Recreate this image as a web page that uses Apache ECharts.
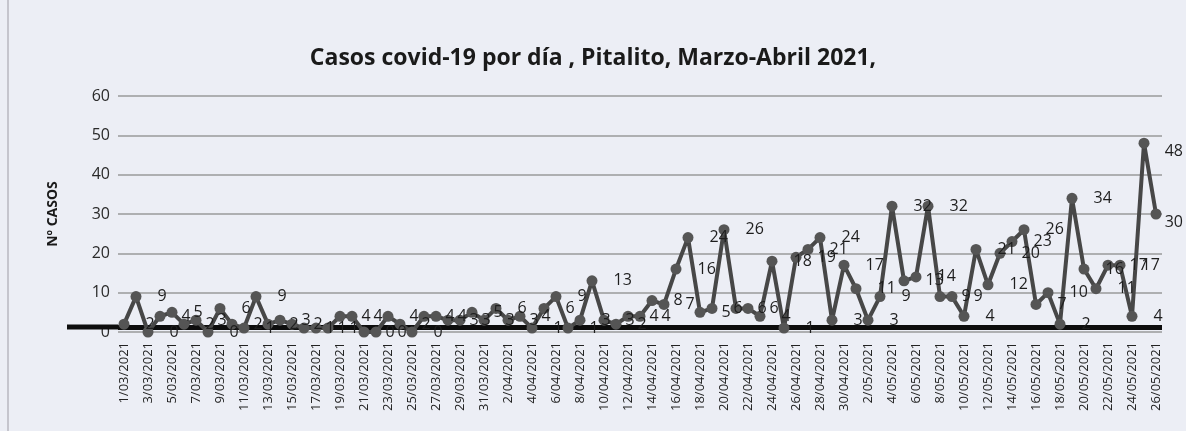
<!DOCTYPE html>
<html>
<head>
<meta charset="utf-8">
<script src="https://cdn.jsdelivr.net/npm/echarts@6/dist/echarts.min.js"></script>
<style>
html,body{margin:0;padding:0;background:#eceef5;}
#chart{width:1186px;height:431px;}
</style>
</head>
<body>
<div id="chart"></div>
<script>
const titleText = "Casos covid-19 por día , Pitalito, Marzo-Abril 2021,";
const yAxisName = "Nº CASOS";
const yTicks = [0, 10, 20, 30, 40, 50, 60];
const categories = [
"1/03/2021","2/03/2021","3/03/2021","4/03/2021","5/03/2021","6/03/2021","7/03/2021","8/03/2021","9/03/2021","10/03/2021",
"11/03/2021","12/03/2021","13/03/2021","14/03/2021","15/03/2021","16/03/2021","17/03/2021","18/03/2021","19/03/2021","20/03/2021",
"21/03/2021","22/03/2021","23/03/2021","24/03/2021","25/03/2021","26/03/2021","27/03/2021","28/03/2021","29/03/2021","30/03/2021",
"31/03/2021","1/04/2021","2/04/2021","3/04/2021","4/04/2021","5/04/2021","6/04/2021","7/04/2021","8/04/2021","9/04/2021",
"10/04/2021","11/04/2021","12/04/2021","13/04/2021","14/04/2021","15/04/2021","16/04/2021","17/04/2021","18/04/2021","19/04/2021",
"20/04/2021","21/04/2021","22/04/2021","23/04/2021","24/04/2021","25/04/2021","26/04/2021","27/04/2021","28/04/2021","29/04/2021",
"30/04/2021","1/05/2021","2/05/2021","3/05/2021","4/05/2021","5/05/2021","6/05/2021","7/05/2021","8/05/2021","9/05/2021",
"10/05/2021","11/05/2021","12/05/2021","13/05/2021","14/05/2021","15/05/2021","16/05/2021","17/05/2021","18/05/2021","19/05/2021",
"20/05/2021","21/05/2021","22/05/2021","23/05/2021","24/05/2021","25/05/2021","26/05/2021"
];
const casos = [
2, 9, 0, 4, 5, 2, 3, 0, 6, 2,
1, 9, 2, 3, 2, 1, 1, 1, 4, 4,
0, 0, 4, 2, 0, 4, 4, 3, 3, 5,
3, 6, 3, 4, 1, 6, 9, 1, 3, 13,
3, 2, 4, 4, 8, 7, 16, 24, 5, 6,
26, 6, 6, 4, 18, 1, 19, 21, 24, 3,
17, 11, 3, 9, 32, 13, 14, 32, 9, 9,
4, 21, 12, 20, 23, 26, 7, 10, 2, 34,
16, 11, 17, 17, 4, 48, 30
];
const baseLineValue = [1.3];

const chart = echarts.init(document.getElementById('chart'), null, {renderer:'canvas'});
const W = 1186;
const option = {
  backgroundColor: '#eceef5',
  animation: false,
  title: {
    text: titleText,
    left: 'center',
    top: 42,
    textStyle: {fontFamily: 'Open Sans', fontWeight: 'bold', fontSize: 23, color: '#1a1a1a'}
  },
  grid: {left: 118, right: 24, top: 96, bottom: 99, containLabel: false},
  xAxis: {
    type: 'category',
    data: categories,
    boundaryGap: true,
    axisLine: {show: false},
    axisTick: {show: false},
    axisLabel: {
      interval: 1, rotate: 90, margin: 10,
      fontFamily: 'Open Sans', fontSize: 13, color: '#222'
    },
    splitLine: {show: false}
  },
  yAxis: {
    type: 'value',
    min: yTicks[0], max: yTicks[yTicks.length - 1], interval: 10,
    name: yAxisName,
    nameLocation: 'middle',
    nameRotate: 90,
    nameGap: 58,
    nameTextStyle: {fontFamily: 'Open Sans', fontWeight: 'bold', fontSize: 14, color: '#1a1a1a'},
    axisLine: {show: false},
    axisTick: {show: false},
    axisLabel: {fontFamily: 'Open Sans', fontSize: 16, color: '#2a2a2a', margin: 8},
    splitLine: {lineStyle: {color: '#9a9a9a', width: 1.5}}
  },
  series: [{
    type: 'line',
    data: casos,
    symbol: 'circle',
    symbolSize: 11,
    showSymbol: true,
    showAllSymbol: true,
    lineStyle: {color: '#474747', width: 4},
    itemStyle: {color: '#555555'},
    label: {
      show: true, position: 'right', distance: 16,
      fontFamily: 'Open Sans', fontSize: 16, color: '#1e1e1e'
    },
    labelLayout: function (p) {
      const r = p.labelRect;
      if (r && r.x + r.width > W - 3) {
        return {x: W - 3 - r.width, hideOverlap: false};
      }
      return {hideOverlap: false};
    },
    markLine: {
      silent: true,
      symbol: 'none',
      label: {show: false},
      lineStyle: {color: '#0d0d0d', width: 5, type: 'solid'},
      data: [{yAxis: baseLineValue[0]}],
      z: 1
    },
    z: 3
  }]
};
chart.setOption(option);
const yPix = chart.convertToPixel({yAxisIndex: 0}, baseLineValue[0]);
chart.setOption({
  graphic: [{
    type: 'line', z: 1,
    shape: {x1: 67, y1: yPix, x2: 118, y2: yPix},
    style: {stroke: '#0d0d0d', lineWidth: 5}
  }, {
    type: 'rect', z: 0,
    shape: {x: 8, y: -5, width: 1200, height: 450},
    style: {fill: 'none', stroke: '#b8b8c0', lineWidth: 1.5}
  }]
});
</script>
</body>
</html>
